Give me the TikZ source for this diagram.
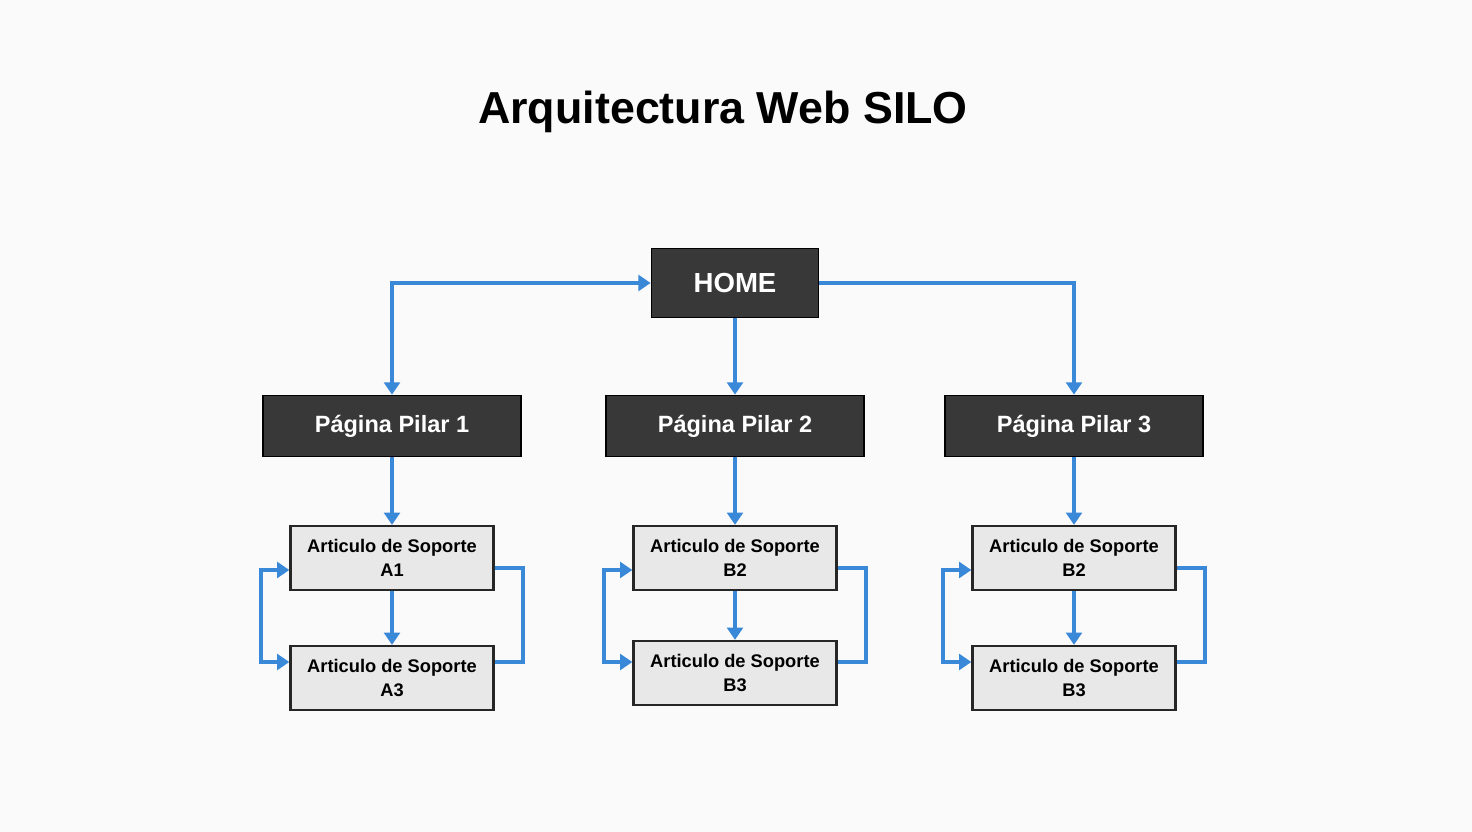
\documentclass[tikz,border=0pt]{standalone}
\usepackage{fontspec}
\setmainfont{Liberation Sans}
\usetikzlibrary{arrows.meta}

\definecolor{silo}{HTML}{3A88D8}
\begin{document}
\begin{tikzpicture}[x=0.02cm,y=-0.02cm,
    pilar/.style={fill=black!78,draw=black,line width=1pt,text=white,font=\fontsize{13.4}{16}\selectfont\bfseries,minimum width=258*0.02cm,minimum height=61*0.02cm,inner sep=0pt},
    soporte/.style={fill=black!9,draw=black!85,line width=1.3pt,font=\fontsize{10.4}{14}\selectfont\bfseries,align=center,minimum width=203*0.02cm,minimum height=64*0.02cm,inner sep=0pt},
    link/.style={draw=silo,line width=2.4pt,-{Triangle[length=7pt,width=9pt]}}]
  \fill[black!2] (0,0) rectangle (1472,832);
  \useasboundingbox (0,0) rectangle (1472,832);
  \node[font=\fontsize{25.5}{28}\selectfont\bfseries] (title) at (723,112) {Arquitectura Web SILO};
  \node[pilar,font=\fontsize{15.7}{18}\selectfont\bfseries,minimum width=167*0.02cm,minimum height=69*0.02cm] (home) at (735,283) {HOME};
  \draw
    (392,426) node[pilar] (p1){Página Pilar 1}
    (735,426) node[pilar] (p2){Página Pilar 2}
    (1074,426) node[pilar] (p3){Página Pilar 3};
  \draw
    (392,558) node[soporte] (a1){Articulo de Soporte\\A1}
    (392,678) node[soporte] (a3){Articulo de Soporte\\A3}
    (735,558) node[soporte] (b2){Articulo de Soporte\\B2}
    (735,673) node[soporte] (b3){Articulo de Soporte\\B3}
    (1074,558) node[soporte] (c2){Articulo de Soporte\\B2}
    (1074,678) node[soporte] (c3){Articulo de Soporte\\B3};
  \begin{scope}[link]
    \draw[{Triangle[length=7pt,width=9pt]}-{Triangle[length=7pt,width=9pt]}] (p1.north) |- (home.west);
    \draw (home) -- (p2);
    \draw (home.east) -| (p3.north);
    \foreach \p/\u/\d/\s in {p1/a1/a3/0.32,p2/b2/b3/0.22,p3/c2/c3/0.32}{
      \draw (\p) -- (\u);
      \draw (\u) -- (\d);
      \draw[{Triangle[length=7pt,width=9pt]}-{Triangle[length=7pt,width=9pt]}] ([yshift=-0.24cm]\u.west) -- ++(-28,0) |- ([yshift=\s cm]\d.west);
      \draw[-] ([yshift=-0.2cm]\u.east) -- ++(28,0) |- ([yshift=\s cm]\d.east);
    }
  \end{scope}
\end{tikzpicture}
\end{document}
